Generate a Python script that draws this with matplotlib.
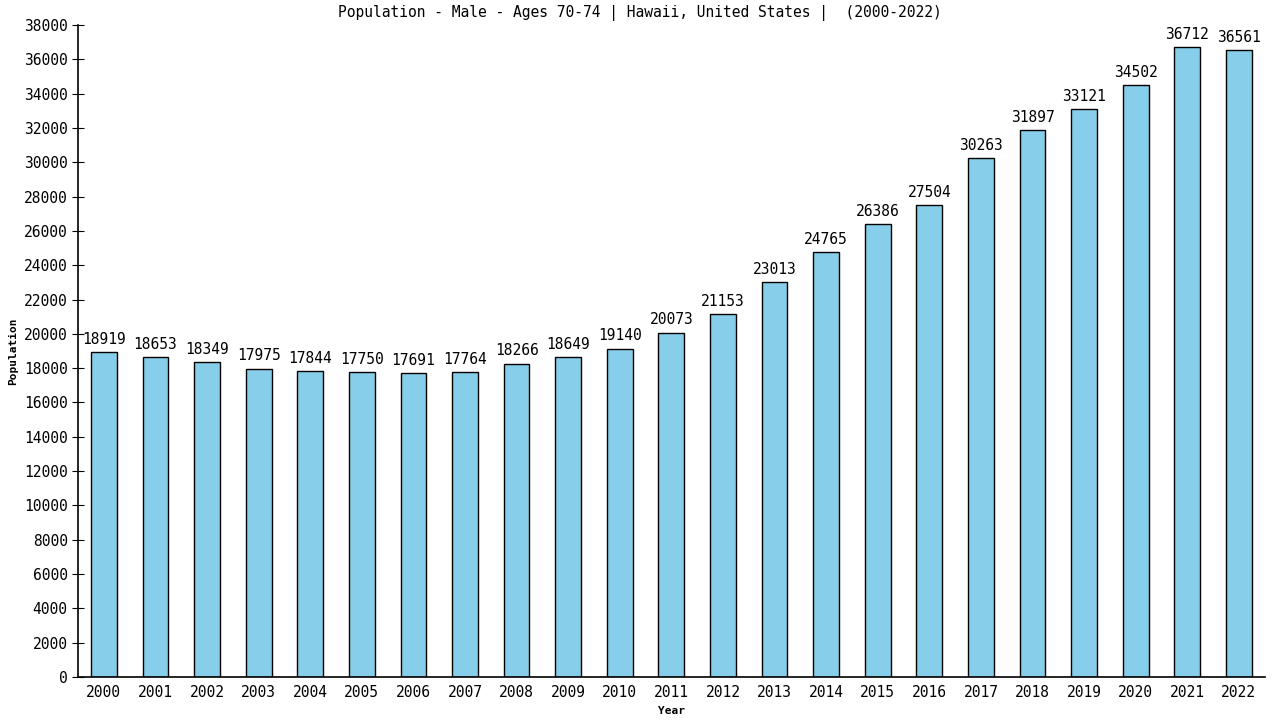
import matplotlib
matplotlib.use("Agg")
import matplotlib.pyplot as plt
import numpy as np

years = [str(y) for y in range(2000, 2023)]
population = [18919, 18653, 18349, 17975, 17844, 17750, 17691, 17764, 18266,
              18649, 19140, 20073, 21153, 23013, 24765, 26386, 27504, 30263,
              31897, 33121, 34502, 36712, 36561]
yticks = list(range(0, 38001, 2000))

plt.rcParams["font.family"] = "DejaVu Sans Mono"

fig = plt.figure(figsize=(12.8, 7.2), dpi=100)
ax = fig.add_axes([0.061, 0.06, 0.927, 0.905])

x = np.arange(len(years))
ax.bar(x, population, width=0.5, color="#87ceeb", edgecolor="black", linewidth=1.0)
for xi, v in zip(x, population):
    ax.text(xi, v + 300, str(v), ha="center", va="bottom", fontsize=10.5)

ax.set_xlim(-0.5, len(years) - 0.5)
ax.set_ylim(0, 38000)
ax.set_xticks(x)
ax.set_xticklabels(years, fontsize=10.5)
ax.set_yticks(yticks)
ax.set_yticklabels([str(t) for t in yticks], fontsize=10.5)
ax.tick_params(axis="x", length=0, pad=6)
ax.tick_params(axis="y", direction="inout", length=8)
for side in ("top", "right"):
    ax.spines[side].set_visible(False)
ax.spines["left"].set_linewidth(1.2)
ax.spines["bottom"].set_linewidth(1.2)

ax.set_xlabel("Year", fontsize=8, fontweight="bold", labelpad=4)
ax.set_ylabel("Population", fontsize=8, fontweight="bold", labelpad=4)
fig.text(0.5, 0.982, "Population - Male - Ages 70-74 | Hawaii, United States |  (2000-2022)",
         ha="center", va="center", fontsize=10.5)

fig.savefig("out.png", dpi=100)
